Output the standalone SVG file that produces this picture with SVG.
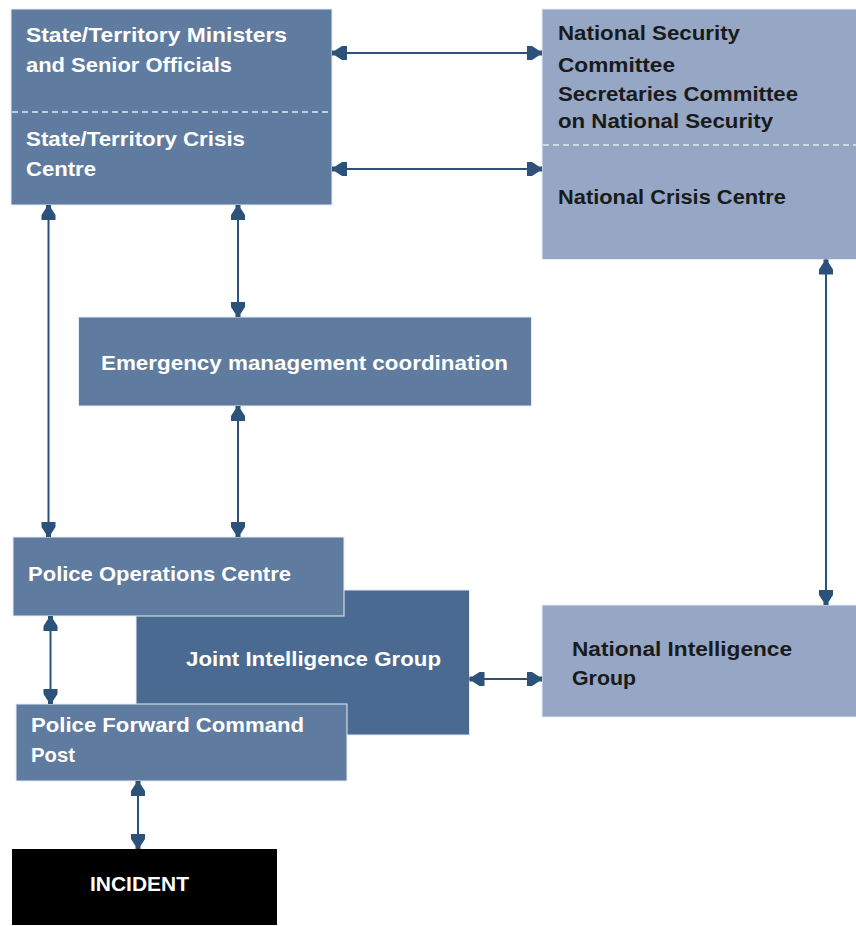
<svg xmlns="http://www.w3.org/2000/svg" width="856" height="926" viewBox="0 0 856 926">
  <defs>
    <style>
      .mid { fill: #5f7ca0; stroke: #e6ecf3; stroke-width: 1; }
      .light { fill: #95a7c4; stroke: #e6ecf3; stroke-width: 1; }
      .dark { fill: #4a6a91; stroke: #e6ecf3; stroke-width: 1; }
      .black { fill: #000; }
      .divider { stroke: #e3e9f1; stroke-width: 1.5; stroke-dasharray: 6 4; fill: none; }
      .wt { font-family: "Liberation Sans", Arial, sans-serif; font-weight: bold; font-size: 21px; fill: #ffffff; }
      .bk { font-family: "Liberation Sans", Arial, sans-serif; font-weight: bold; font-size: 20px; fill: #1a1a1a; }
      .link { stroke: #2c5279; stroke-width: 2; fill: none;
              marker-start: url(#head-start); marker-end: url(#head-end); }
    </style>
    <marker id="head-end" viewBox="-16 -8 17 16" refX="0" refY="0" markerWidth="17" markerHeight="16"
            markerUnits="userSpaceOnUse" orient="auto">
      <path d="M0,-2.5 L-3,-2.5 L-10,-7 L-15,-7 L-15,7 L-10,7 L-3,2.5 L0,2.5 Z" fill="#2c5279"/>
    </marker>
    <marker id="head-start" viewBox="-16 -8 17 16" refX="0" refY="0" markerWidth="17" markerHeight="16"
            markerUnits="userSpaceOnUse" orient="auto-start-reverse">
      <path d="M0,-2.5 L-3,-2.5 L-10,-7 L-15,-7 L-15,7 L-10,7 L-3,2.5 L0,2.5 Z" fill="#2c5279"/>
    </marker>
  </defs>

  <rect width="856" height="926" fill="#ffffff"/>

  <!-- State / Territory level -->
  <g id="state-territory">
    <rect class="mid" x="11" y="9" width="321" height="196"/>
    <line class="divider" x1="12" y1="112" x2="331" y2="112"/>
    <text class="wt" x="26" y="42" textLength="261" lengthAdjust="spacingAndGlyphs">State/Territory Ministers</text>
    <text class="wt" x="26" y="72" textLength="206" lengthAdjust="spacingAndGlyphs">and Senior Officials</text>
    <text class="wt" x="26" y="146" textLength="219" lengthAdjust="spacingAndGlyphs">State/Territory Crisis</text>
    <text class="wt" x="26" y="176" textLength="70" lengthAdjust="spacingAndGlyphs">Centre</text>
  </g>

  <!-- National level -->
  <g id="national">
    <rect class="light" x="542" y="9" width="316" height="250.5"/>
    <line class="divider" x1="543" y1="145" x2="856" y2="145"/>
    <text class="bk" x="558" y="40" textLength="182" lengthAdjust="spacingAndGlyphs">National Security</text>
    <text class="bk" x="558" y="71.5" textLength="117" lengthAdjust="spacingAndGlyphs">Committee</text>
    <text class="bk" x="558" y="100.5" textLength="240" lengthAdjust="spacingAndGlyphs">Secretaries Committee</text>
    <text class="bk" x="558" y="128" textLength="215" lengthAdjust="spacingAndGlyphs">on National Security</text>
    <text class="bk" x="558" y="204" textLength="228" lengthAdjust="spacingAndGlyphs">National Crisis Centre</text>
  </g>

  <!-- Emergency management -->
  <g id="emergency-management">
    <rect class="mid" x="78.5" y="317" width="453" height="89"/>
    <text class="wt" x="101" y="370" textLength="407" lengthAdjust="spacingAndGlyphs">Emergency management coordination</text>
  </g>

  <!-- Joint Intelligence Group (behind police boxes) -->
  <g id="joint-intelligence">
    <rect class="dark" x="136" y="590" width="333.5" height="145"/>
    <text class="wt" x="186" y="666" textLength="255" lengthAdjust="spacingAndGlyphs">Joint Intelligence Group</text>
  </g>

  <!-- Police Operations Centre -->
  <g id="police-operations">
    <rect class="mid" x="13" y="537" width="331" height="79"/>
    <text class="wt" x="28" y="581" textLength="263" lengthAdjust="spacingAndGlyphs">Police Operations Centre</text>
  </g>

  <!-- Police Forward Command Post -->
  <g id="police-forward">
    <rect class="mid" x="16" y="704" width="331" height="77"/>
    <text class="wt" x="31" y="732" textLength="273" lengthAdjust="spacingAndGlyphs">Police Forward Command</text>
    <text class="wt" x="31" y="762" textLength="44" lengthAdjust="spacingAndGlyphs">Post</text>
  </g>

  <!-- National Intelligence Group -->
  <g id="national-intelligence">
    <rect class="light" x="542" y="605" width="316" height="112"/>
    <text class="bk" x="572" y="656" textLength="220" lengthAdjust="spacingAndGlyphs">National Intelligence</text>
    <text class="bk" x="572" y="685" textLength="64" lengthAdjust="spacingAndGlyphs">Group</text>
  </g>

  <!-- Incident -->
  <g id="incident">
    <rect class="black" x="12" y="849" width="265" height="76"/>
    <text class="wt" x="90" y="891" textLength="99" lengthAdjust="spacingAndGlyphs">INCIDENT</text>
  </g>

  <!-- Two-way links -->
  <g id="connectors">
    <path class="link" d="M332,53 H542"/>
    <path class="link" d="M332,169 H542"/>
    <path class="link" d="M48.5,205 V537"/>
    <path class="link" d="M238,205 V317"/>
    <path class="link" d="M238,406 V537"/>
    <path class="link" d="M826,259.5 V605"/>
    <path class="link" d="M50.5,616 V704"/>
    <path class="link" d="M469.5,679 H542"/>
    <path class="link" d="M138,781 V849"/>
  </g>
</svg>
